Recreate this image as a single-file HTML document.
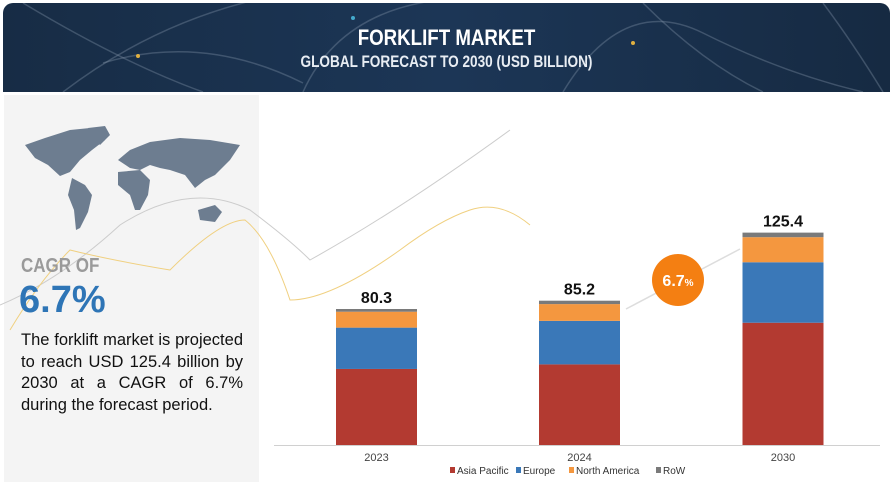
<!DOCTYPE html>
<html><head><meta charset="utf-8"><style>
body{margin:0;width:895px;height:489px;background:#fff;overflow:hidden;font-family:"Liberation Sans",sans-serif;position:relative}
.abs{position:absolute}
</style></head><body>
<div class="abs" style="left:3px;top:3px;width:887px;height:89px;border-radius:10px 10px 0 0;background:linear-gradient(90deg,#172c45,#1c3656 50%,#162a42);overflow:hidden">
<svg width="887" height="89" class="abs" style="left:0;top:0">
<g fill="none" stroke="#8a9bb0" stroke-opacity=".35" stroke-width="1.5">
<path d="M20 0 Q120 60 200 89"/><path d="M60 89 Q150 20 260 -5"/><path d="M300 89 Q340 0 460 -5"/><path d="M560 89 Q620 -10 700 30 T860 89"/><path d="M640 0 Q700 60 760 89"/><path d="M820 0 Q850 40 880 89"/><path d="M100 60 Q200 30 300 80"/></g>
<circle cx="135" cy="53" r="2" fill="#e0b040"/><circle cx="630" cy="40" r="2" fill="#e0b040"/><circle cx="350" cy="15" r="2" fill="#4ac"/></svg>
<div class="abs" style="left:0;width:887px;top:22px;text-align:center;color:#fff;font-weight:bold;font-size:22px;transform:scaleX(.85)">FORKLIFT MARKET</div>
<div class="abs" style="left:0;width:887px;top:49px;text-align:center;color:#e8edf3;font-weight:bold;font-size:17px;transform:scaleX(.8)">GLOBAL FORECAST TO 2030 (USD BILLION)</div>
</div>
<div class="abs" style="left:4px;top:95px;width:255px;height:387px;background:#f4f4f4"></div>
<svg class="abs" style="left:0;top:0" width="895" height="489">
<g fill="#6d7d90">
<path d="M25 145 L45 138 L70 130 L90 128 L105 140 L92 150 L80 160 L70 172 L60 176 L48 165 L35 158 Z"/>
<path d="M88 128 L105 126 L110 135 L100 145 Z"/>
<path d="M72 178 L85 185 L92 195 L88 212 L80 228 L76 230 L74 210 L68 195 Z"/>
<path d="M118 160 L130 150 L150 142 L180 138 L210 140 L240 145 L230 160 L215 175 L205 180 L195 188 L185 175 L170 170 L160 168 L150 165 L140 170 L130 168 Z"/>
<path d="M118 172 L140 170 L150 180 L148 195 L140 210 L135 210 L130 195 L118 185 Z"/>
<path d="M198 210 L215 205 L222 212 L215 222 L200 220 Z"/>
</g>
<path d="M0 305 Q60 280 120 225 Q190 180 250 210 Q290 240 310 260 Q400 210 510 130" fill="none" stroke="#ccc" stroke-width="1"/>
<path d="M10 330 Q40 280 70 250 Q110 260 170 270 Q220 220 245 220 Q270 240 290 300 Q330 300 400 250 Q440 220 470 210 Q500 200 530 225" fill="none" stroke="#f0d080" stroke-width="1"/>
</svg>
<div class="abs" style="left:21px;top:255px;font-size:20px;color:#9a9a9a;font-weight:bold;transform:scaleX(.85);transform-origin:left">CAGR OF</div>
<div class="abs" style="left:19px;top:279px;font-size:38px;color:#2e75b6;font-weight:bold">6.7%</div>
<div class="abs" style="left:21px;top:330px;width:222px;font-size:16.5px;line-height:21.5px;color:#111;text-align:justify;text-align-last:left">The forklift market is projected to reach USD 125.4 billion by 2030 at a CAGR of 6.7% during the forecast period.</div>
<svg id="chart" class="abs" style="left:0;top:0" width="895" height="489"></svg>
<script>
const years=["2023","2024","2030"];
const totals=[80.3,85.2,125.4];
const asiaPacific=[44.9,47.6,72.2];
const europe=[24.4,25.7,35.7];
const northAmerica=[9.4,9.9,14.8];
const row=[1.6,2.0,2.7];
const seriesNames=["Asia Pacific","Europe","North America","RoW"];
const colors=["#b33a31","#3a78b8","#f4973f","#7a7a7a"];
const svg=document.getElementById('chart');const NS="http://www.w3.org/2000/svg";
const base=445,scale=136/80.3;
const xPos=i=>[376.5,579.5,783][i];const bw=81;
const y=v=>base-v*scale;
function mk(t,a){const e=document.createElementNS(NS,t);for(const k in a)e.setAttribute(k,a[k]);svg.appendChild(e);return e;}
const ax=mk('line',{x1:274,x2:880,y1:base+0.5,y2:base+0.5,stroke:'#d0d0d0'});


const series=[asiaPacific,europe,northAmerica,row];
years.forEach((yr,i)=>{let cum=0;
series.forEach((s,j)=>{const r=mk('rect',{x:xPos(i)-bw/2,y:y(cum+s[i]),width:bw,height:s[i]*scale,fill:colors[j]});

cum+=s[i];});
const t=mk('text',{x:xPos(i),y:y(totals[i])-6,'text-anchor':'middle','font-size':16,'font-weight':'bold',fill:'#111'});t.textContent=totals[i].toFixed(1);


const c=mk('text',{x:xPos(i),y:461,'text-anchor':'middle','font-size':11,fill:'#444'});c.textContent=yr;

});
const lx=[450,516,569,656];
seriesNames.forEach((n,j)=>{const r=mk('rect',{x:lx[j],y:467,width:5,height:6,fill:colors[j]});


const t=mk('text',{x:lx[j]+7,y:474,'font-size':10,fill:'#333'});t.textContent=n;

});
const ar=mk('line',{x1:626,y1:309,x2:740,y2:249,stroke:'#ddd','stroke-width':1.5});


const ci=mk('circle',{cx:678,cy:280,r:26,fill:'#f47f12'});


const ct=mk('text',{x:678,y:286,'text-anchor':'middle','font-size':16,'font-weight':'bold',fill:'#fff'});ct.innerHTML='6.7<tspan font-size="10">%</tspan>';


</script>
</body></html>
